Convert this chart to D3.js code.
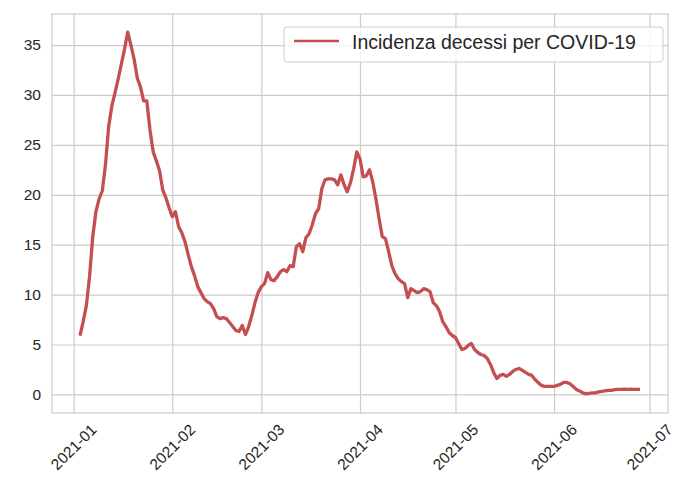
<!DOCTYPE html>
<html>
<head>
<meta charset="utf-8">
<script src="https://cdn.jsdelivr.net/npm/d3@7"></script>
<style>
  body { margin: 0; background: #fff; }
  text { font-family: "Liberation Sans", Arial, sans-serif; fill: #262626; }
</style>
</head>
<body>
<div id="chart"></div>
<script>
// daily series, 2021-01-03 .. 2021-06-28
const startDate = '2021-01-03'
const values = [
  5.9, 7.3, 8.9, 11.8, 15.8, 18.3, 19.6, 20.4, 23.0, 26.8,
  28.9, 30.2, 31.6, 33.1, 34.6, 36.3, 35.0, 33.6, 31.7, 30.8,
  29.4, 29.4, 26.5, 24.3, 23.4, 22.4, 20.5, 19.7, 18.7, 17.8,
  18.3, 16.8, 16.2, 15.3, 14.0, 12.8, 11.9, 10.8, 10.2, 9.6,
  9.3, 9.1, 8.6, 7.8, 7.6, 7.7, 7.6, 7.2, 6.8, 6.4,
  6.3, 6.9, 6.0, 6.8, 7.9, 9.2, 10.2, 10.8, 11.1, 12.2,
  11.5, 11.4, 11.8, 12.3, 12.5, 12.3, 12.9, 12.8, 14.8, 15.1,
  14.3, 15.7, 16.1, 17.0, 18.1, 18.6, 20.6, 21.5, 21.6, 21.6,
  21.5, 21.0, 22.0, 21.0, 20.3, 21.2, 22.6, 24.3, 23.6, 21.8,
  21.9, 22.5, 21.3, 19.6, 17.6, 15.8, 15.6, 14.3, 12.9, 12.1,
  11.6, 11.3, 11.1, 9.7, 10.6, 10.4, 10.2, 10.3, 10.6, 10.5,
  10.3, 9.2, 8.9, 8.3, 7.3, 6.8, 6.2, 5.9, 5.7, 5.1,
  4.5, 4.6, 4.9, 5.1, 4.5, 4.2, 4.0, 3.9, 3.6, 3.0,
  2.2, 1.6, 1.9, 2.0, 1.8, 2.0, 2.3, 2.5, 2.6, 2.4,
  2.2, 2.0, 1.9, 1.5, 1.2, 0.9, 0.8, 0.8, 0.8, 0.8,
  0.9, 1.0, 1.2, 1.2, 1.07, 0.8, 0.5, 0.35, 0.15, 0.05,
  0.1, 0.15, 0.15, 0.25, 0.3, 0.35, 0.4, 0.4, 0.47, 0.5,
  0.5, 0.53, 0.5, 0.53, 0.5, 0.5, 0.5
]
const yTicks = [0, 5, 10, 15, 20, 25, 30, 35]
const xTickLabels = ['2021-01', '2021-02', '2021-03', '2021-04', '2021-05', '2021-06', '2021-07']
const seriesName = 'Incidenza decessi per COVID-19'

const parse = d3.timeParse('%Y-%m-%d')
const t0 = parse(startDate)
const data = values.map((v, i) => ({ date: d3.timeDay.offset(t0, i), value: v }))

const fullWidth = 677,
  fullHeight = 491,
  margin = { top: 14, right: 9, bottom: 78, left: 52 },
  width = fullWidth - margin.left - margin.right,
  height = fullHeight - margin.top - margin.bottom

const svg = d3.select('#chart')
  .append('svg')
    .attr('width', fullWidth)
    .attr('height', fullHeight)
  .append('g')
    .attr('transform', `translate(${margin.left}, ${margin.top})`)

// matplotlib style 5% padding
const xExt = d3.extent(data, d => d.date)
const xPad = (xExt[1] - xExt[0]) * 0.05
const xScale = d3.scaleTime()
  .domain([new Date(+xExt[0] - xPad), new Date(+xExt[1] + xPad)])
  .range([0, width])

const yExt = d3.extent(data, d => d.value)
const yPad = (yExt[1] - yExt[0]) * 0.05
const yScale = d3.scaleLinear()
  .domain([yExt[0] - yPad - 0.1, yExt[1] + yPad])
  .range([height, 0])

const xTicks = xTickLabels.map(s => d3.timeParse('%Y-%m')(s))
const gridColor = '#cccccc'

// grid
svg.append('g')
  .attr('transform', `translate(0, ${height})`)
  .call(d3.axisBottom(xScale).tickValues(xTicks).tickSize(-height).tickFormat(''))
  .call(g => g.select('.domain').remove())
  .call(g => g.selectAll('line').attr('stroke', gridColor).attr('stroke-width', 1.2))

svg.append('g')
  .call(d3.axisLeft(yScale).tickValues(yTicks).tickSize(-width).tickFormat(''))
  .call(g => g.select('.domain').remove())
  .call(g => g.selectAll('line').attr('stroke', gridColor).attr('stroke-width', 1.2))

// frame
svg.append('rect')
  .attr('width', width)
  .attr('height', height)
  .attr('fill', 'none')
  .attr('stroke', gridColor)
  .attr('stroke-width', 1.2)

// tick labels
svg.append('g')
  .selectAll('text')
  .data(yTicks)
  .join('text')
    .attr('x', -11)
    .attr('y', d => yScale(d))
    .attr('dy', '0.35em')
    .attr('text-anchor', 'end')
    .style('font-size', '15.5px')
    .text(d => d)

svg.append('g')
  .selectAll('text')
  .data(xTicks)
  .join('text')
    .attr('transform', d => `translate(${xScale(d)}, ${height + 34}) rotate(-45)`)
    .attr('text-anchor', 'middle')
    .attr('dy', '0.35em')
    .style('font-size', '15.5px')
    .text((d, i) => xTickLabels[i])

// line
const line = d3.line()
  .x(d => xScale(d.date))
  .y(d => yScale(d.value))

svg.append('path')
  .datum(data)
  .attr('fill', 'none')
  .attr('stroke', '#c44e52')
  .attr('stroke-width', 3.3)
  .attr('stroke-linejoin', 'round')
  .attr('d', line)

// legend
const legend = svg.append('g')
  .attr('transform', `translate(${width - 384}, 13)`)

legend.append('rect')
  .attr('width', 379)
  .attr('height', 35)
  .attr('rx', 3)
  .attr('fill', '#fff')
  .attr('fill-opacity', 0.8)
  .attr('stroke', gridColor)

legend.append('line')
  .attr('x1', 10).attr('x2', 55)
  .attr('y1', 14).attr('y2', 14)
  .attr('stroke', '#c44e52')
  .attr('stroke-width', 2.6)

legend.append('text')
  .attr('x', 68)
  .attr('y', 15)
  .attr('dy', '0.35em')
  .style('font-size', '19.5px')
  .text(seriesName)
</script>
</body>
</html>
